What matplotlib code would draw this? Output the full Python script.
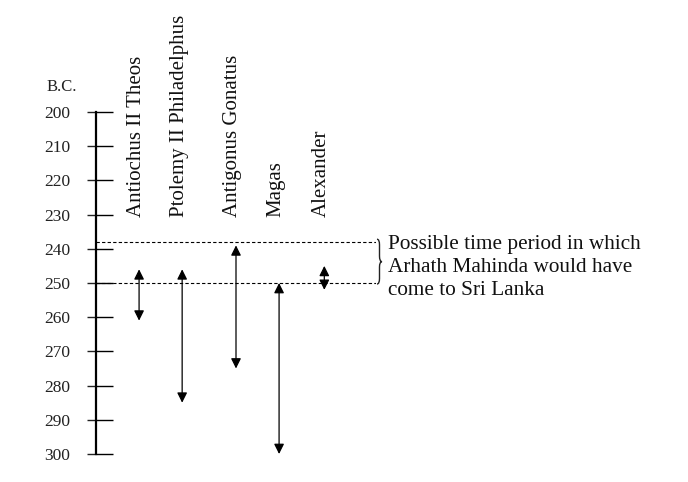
import matplotlib
matplotlib.use('Agg')
import matplotlib.pyplot as plt
import matplotlib.transforms as mtransforms
from matplotlib.path import Path
from matplotlib.patches import PathPatch

# ---- data ----
rulers = ['Antiochus II Theos', 'Ptolemy II Philadelphus', 'Antigonus Gonatus', 'Magas', 'Alexander']
reign_from = [261, 285, 275, 300, 252]   # B.C.
reign_to = [246, 246, 239, 250, 245]     # B.C.
period_from = 238
period_to = 250
year_ticks = list(range(200, 301, 10))
axis_label = 'B.C.'
note = 'Possible time period in which\nArhath Mahinda would have\ncome to Sri Lanka'

# ---- layout ----
x_pos = [1.0, 2.0, 3.25, 4.25, 5.3]
FONT = 'Liberation Serif'
plt.rcParams['font.family'] = [FONT, 'DejaVu Serif']

W, H = 688, 482
AX_W = 280
fig = plt.figure(figsize=(W / 100, H / 100), dpi=100)
ax = fig.add_axes([96 / W, 1 - 454 / H, AX_W / W, (454 - 112) / H])
ax.set_ylim(300, 200)
ax.set_xlim(0, 6.5)
for s in ['top', 'right', 'bottom']:
    ax.spines[s].set_visible(False)
ax.spines['left'].set_linewidth(1.6)
ax.set_xticks([])
ax.yaxis.remove_overlapping_locs = False
ax.set_yticks(year_ticks)
ax.set_yticks(year_ticks, minor=True)
ax.tick_params(axis='y', which='major', direction='out', length=6.5, width=1.0,
               pad=12, labelsize=12.5, colors='#222222')
ax.tick_params(axis='y', which='minor', direction='in', length=12.2, width=1.0)

# dashed period lines
for yv in (period_from, period_to):
    ax.axhline(yv, xmin=0, xmax=1, color='black', lw=0.8, ls=(0, (3, 2)))

# reign arrows
for x, a, b in zip(x_pos, reign_from, reign_to):
    ax.annotate('', xy=(x, b), xytext=(x, a),
                arrowprops=dict(arrowstyle='<|-|>,head_length=0.6,head_width=0.3',
                                mutation_scale=10, lw=0.9, color='black',
                                shrinkA=0, shrinkB=0))

# ruler labels
lab_tr = mtransforms.offset_copy(ax.transData, fig=fig, x=-3, y=0, units='dots')
for x, name in zip(x_pos, rulers):
    ax.text(x, 230.8, name, rotation=90, ha='center', va='bottom',
            fontsize=15, transform=lab_tr, clip_on=False, color='#111111')

# B.C. label
fig.text(47 / W, 1 - 87 / H, axis_label, ha='left', va='center', fontsize=12, color='#222222')

# brace (drawn as a path) and note
bt = mtransforms.blended_transform_factory(ax.transAxes, ax.transData)
x0 = 1 + 1.0 / AX_W
x1 = 1 + 3.5 / AX_W
x2 = 1 + 6.0 / AX_W
yt = period_from - 0.8
yb = period_to + 0.3
ym = (yt + yb) / 2
d = 1.6
verts = [(x0, yt), (x1, yt), (x1, yt + d), (x1, ym - d), (x1, ym), (x2, ym),
         (x1, ym), (x1, ym + d), (x1, yb - d), (x1, yb), (x0, yb)]
codes = [Path.MOVETO, Path.CURVE3, Path.CURVE3, Path.LINETO, Path.CURVE3, Path.CURVE3,
         Path.CURVE3, Path.CURVE3, Path.LINETO, Path.CURVE3, Path.CURVE3]
ax.add_patch(PathPatch(Path(verts, codes), transform=bt, fill=False, lw=1.0,
                       edgecolor='#222222', clip_on=False))
ax.text(1.043, 245.5, note, transform=bt, ha='left', va='center', fontsize=15.3,
        linespacing=1.3, clip_on=False, color='#111111')

fig.savefig('out.png', dpi=100)
